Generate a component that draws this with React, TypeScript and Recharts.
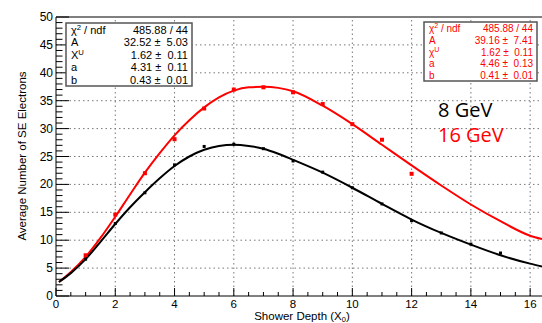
import { ComposedChart, Line, Scatter, XAxis, YAxis, ReferenceLine } from "recharts";

// fit curves
const fitX = [0.1, 0.5, 1, 1.5, 2, 2.5, 3, 3.5, 4, 4.5, 5, 5.5, 6, 6.5, 7, 7.5, 8, 9, 10, 11, 12, 13, 14, 15, 16, 16.4];
const fit8 = [2.5, 4.1, 6.6, 9.7, 12.9, 15.9, 18.6, 21.1, 23.3, 25.0, 26.2, 26.9, 27.1, 26.9, 26.4, 25.5, 24.4, 22.1, 19.4, 16.5, 13.7, 11.3, 9.2, 7.3, 5.8, 5.3];
const fit16 = [2.5, 4.3, 7.0, 10.4, 14.2, 18.2, 22.1, 25.6, 28.8, 31.5, 33.8, 35.6, 36.8, 37.4, 37.5, 37.3, 36.7, 34.1, 30.8, 27.1, 23.4, 19.8, 16.4, 13.4, 10.8, 10.2];

// measured points
const pts8X = [1, 2, 3, 4, 5, 6, 7, 8, 9, 10, 11, 12, 13, 14, 15];
const pts8Y = [6.6, 13.0, 18.5, 23.5, 26.8, 27.2, 26.4, 24.2, 22.2, 19.4, 16.5, 13.5, 11.3, 9.3, 7.7];
const pts16X = [1, 2, 3, 4, 5, 6, 7, 8, 9, 10, 11, 12];
const pts16Y = [7.3, 14.6, 22.0, 28.1, 33.6, 37.0, 37.4, 36.5, 34.4, 30.8, 28.0, 21.9];

const xMajor = [2, 4, 6, 8, 10, 12, 14, 16];
const yMajor = [5, 10, 15, 20, 25, 30, 35, 40, 45];
const xTicks = Array.from({ length: 33 }, (_, i) => i * 0.5);
const yTicks = Array.from({ length: 51 }, (_, i) => i);

const stats8 = [
  ["χ2 / ndf", "485.88 / 44"],
  ["A", "32.52 ±  5.03"],
  ["XU", "1.62 ±  0.11"],
  ["a", "4.31 ±  0.11"],
  ["b", "0.43 ±  0.01"],
];
const stats16 = [
  ["χ2 / ndf", "485.88 / 44"],
  ["A", "39.16 ±  7.41"],
  ["χU", "1.62 ±  0.11"],
  ["a", "4.46 ±  0.13"],
  ["b", "0.41 ±  0.01"],
];

const curve8 = fitX.map((x, i) => ({ x, y: fit8[i] }));
const curve16 = fitX.map((x, i) => ({ x, y: fit16[i] }));
const data8 = pts8X.map((x, i) => ({ x, y: pts8Y[i] }));
const data16 = pts16X.map((x, i) => ({ x, y: pts16Y[i] }));

const FONT = "'Liberation Sans', Arial, Helvetica, sans-serif";

function XTick({ x, y, payload }: any) {
  const v = payload.value;
  const major = Math.abs(v % 2) < 1e-6;
  return (
    <g>
      <line x1={x} x2={x} y1={y} y2={y - (major ? 8 : 4)} stroke="#000" />
      {major && (
        <text x={x} y={y + 11.5} textAnchor="middle" fontSize={11.5} fontFamily={FONT} fill="#000">
          {v}
        </text>
      )}
    </g>
  );
}

function YTick({ x, y, payload }: any) {
  const v = payload.value;
  const major = v % 5 === 0;
  return (
    <g>
      <line x1={x} x2={x + (major ? 13 : 6.5)} y1={y} y2={y} stroke="#000" />
      {major && (
        <text x={x - 3} y={y + 4} textAnchor="end" fontSize={12} fontFamily={FONT} fill="#000">
          {v}
        </text>
      )}
    </g>
  );
}

function Dot8({ cx, cy }: any) {
  return <rect x={cx - 1.5} y={cy - 1.5} width={3} height={3} fill="#000" />;
}

function Dot16({ cx, cy }: any) {
  return <rect x={cx - 2} y={cy - 2} width={4} height={4} fill="#ff0000" />;
}

function Label({ name }: { name: string }) {
  // χ2 / XU -> superscript on second char
  const base = name[0];
  const sup = name[1];
  const rest = name.slice(2);
  return (
    <>
      {base}
      <tspan dy={-4} fontSize="0.7em">{sup}</tspan>
      <tspan dy={4}>{rest}</tspan>
    </>
  );
}

function StatBox({ x, y, w, h, rows, color, fs, rowH, first }: any) {
  return (
    <g>
      <rect x={x} y={y} width={w} height={h} fill="#fff" stroke="#555" strokeWidth={1.5} />
      {rows.map((r: string[], i: number) => (
        <g key={i} fontFamily={FONT} fontSize={fs} fill={color}>
          <text x={x + 5} y={first + i * rowH}>
            {i === 0 || i === 2 ? <Label name={r[0]} /> : r[0]}
          </text>
          <text x={x + w - 4} y={first + i * rowH} textAnchor="end" style={{ whiteSpace: "pre" }}>
            {r[1]}
          </text>
        </g>
      ))}
    </g>
  );
}

export default function App() {
  return (
    <div style={{ position: "absolute", left: 0, top: 0, width: 542, height: 323, background: "#fff" }}>
      <ComposedChart width={542} height={323} margin={{ top: 17, right: 0, bottom: 0, left: 0 }}>
        <XAxis
          type="number"
          dataKey="x"
          domain={[0, 16.4]}
          ticks={xTicks}
          interval={0}
          allowDataOverflow
          tick={<XTick />}
          tickLine={false}
          tickSize={0}
          tickMargin={0}
          height={27}
          axisLine={{ stroke: "#000" }}
        />
        <YAxis
          type="number"
          dataKey="y"
          domain={[0, 50]}
          ticks={yTicks}
          interval={0}
          tick={<YTick />}
          tickLine={false}
          tickSize={0}
          tickMargin={0}
          width={56}
          axisLine={{ stroke: "#000" }}
        />
        {xMajor.map((v) => (
          <ReferenceLine key={"gx" + v} x={v} stroke="#777" strokeDasharray="1.5 3" />
        ))}
        {yMajor.map((v) => (
          <ReferenceLine key={"gy" + v} y={v} stroke="#777" strokeDasharray="1.5 3" />
        ))}
        <ReferenceLine y={50} stroke="#000" />
        <Line data={curve16} dataKey="y" type="monotone" stroke="#ff0000" strokeWidth={2} dot={false} isAnimationActive={false} />
        <Line data={curve8} dataKey="y" type="monotone" stroke="#000" strokeWidth={2} dot={false} isAnimationActive={false} />
        <Scatter data={data16} dataKey="y" shape={<Dot16 />} isAnimationActive={false} />
        <Scatter data={data8} dataKey="y" shape={<Dot8 />} isAnimationActive={false} />
      </ComposedChart>
      <svg width={542} height={323} style={{ position: "absolute", left: 0, top: 0, pointerEvents: "none" }}>
        <StatBox x={66} y={23} w={126} h={63} rows={stats8} color="#000" fs={11} rowH={12.4} first={34} />
        <StatBox x={424} y={22} w={113} h={59} rows={stats16} color="#ff0000" fs={10} rowH={11.8} first={32} />
        <text x={438} y={117} fontFamily="'Open Sans', sans-serif" fontSize={20} fill="#000">8 GeV</text>
        <text x={438} y={142} fontFamily="'Open Sans', sans-serif" fontSize={20} fill="#ff0000">16 GeV</text>
        <text
          transform="translate(26,156) rotate(-90)"
          textAnchor="middle"
          fontFamily={FONT}
          fontSize={11.5}
          fill="#000"
        >
          Average Number of SE Electrons
        </text>
        <text x={302} y={320} textAnchor="middle" fontFamily={FONT} fontSize={11.5} fill="#000">
          Shower Depth (X<tspan dy={1.5} fontSize={7.5}>0</tspan>
          <tspan dy={-1.5}>)</tspan>
        </text>
      </svg>
    </div>
  );
}
